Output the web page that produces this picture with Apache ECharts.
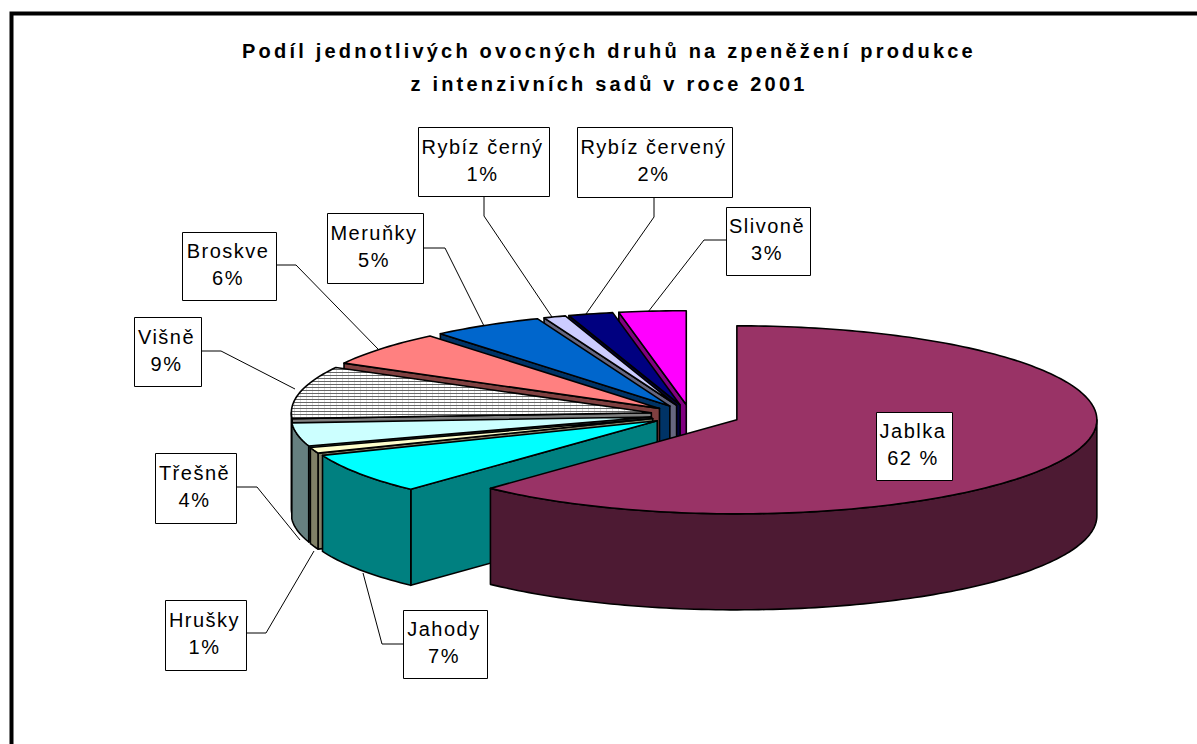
<!DOCTYPE html>
<html><head><meta charset="utf-8">
<script src="https://cdn.jsdelivr.net/npm/echarts@6/dist/echarts.min.js"></script>
<style>
html,body{margin:0;padding:0;background:#fff}
#c{width:1197px;height:744px}
#c svg text{letter-spacing:1.5px}
#c svg text[style*="bold"]{letter-spacing:3.2px}
</style></head><body><div id="c"></div>
<script>
// data, clockwise from twelve o'clock
const categories = ['Jablka','Jahody','Hrušky','Třešně','Višně','Broskve','Meruňky','Rybíz černý','Rybíz červený','Slivoně'];
const shares = [62,7,1,4,9,6,5,1,2,3];
const shareLabels = ['62 %','7%','1%','4%','9%','6%','5%','1%','2%','3%'];
const titleLines = ['Podíl jednotlivých ovocných druhů na zpeněžení produkce','z intenzivních sadů v roce 2001'];

// style and layout
const topColors  = ['#993366','#00ffff','#ffffcc','#ccffff','hatch','#ff8080','#0066cc','#ccccff','#000080','#ff00ff'];
const sideColors = ['#4d1a33','#008080','#808066','#668080','#808080','#804040','#003366','#666680','#000040','#800080'];
const pie = {cx:690, cy:415, rx:360, ry:94, depth:96};
const explosion = [0.14,0.11,0.11,0.11,0.11,0.11,0.11,0.11,0.11,0.11];
// label boxes [x0,y0,x1,y1] and leader polyline
const boxes = [[876,412,952,480],[403,610,487,678],[165,600,246,670],[155,453,236,523],[134,317,201,386],[182,232,276,300],[327,213,423,283],[418,127,549,196],[577,127,732,197],[726,207,810,275]];
const leaders = [null,
 [[403,644],[382,644],[363,573]],
 [[246,633],[266,633],[314,551]],
 [[236,487],[257,487],[300,540]],
 [[201,351],[221,351],[295,389]],
 [[276,265],[296,265],[378,349]],
 [[423,248],[445,248],[484,326]],
 [[484,196],[484,216],[552,317]],
 [[654,197],[654,217],[586,314]],
 [[726,240],[704,240],[648,312]]];

// hatch for Višně
const hc = document.createElement('canvas'); hc.width = 6; hc.height = 3;
const hx = hc.getContext('2d');
hx.fillStyle = '#fff'; hx.fillRect(0,0,6,3);
hx.fillStyle = '#ddd'; hx.fillRect(0,0,1,3);
hx.fillStyle = '#666'; hx.fillRect(0,0,6,1);
const hatch = {image: hc, repeat: 'repeat'};

const total = shares.reduce((a,b)=>a+b,0);
const starts = []; { let acc = 0; shares.forEach(v => { starts.push(acc); acc += v; }); }

function renderSlice(params, api) {
  const i = api.value(0);
  const a0 = starts[i] / total * 2 * Math.PI;
  const a1 = (starts[i] + shares[i]) / total * 2 * Math.PI;
  const mid = (a0 + a1) / 2;
  const ox = pie.cx + explosion[i] * pie.rx * Math.sin(mid);
  const oy = pie.cy - explosion[i] * pie.ry * Math.cos(mid);
  const at = a => [ox + pie.rx * Math.sin(a), oy - pie.ry * Math.cos(a)];
  const down = p => [p[0], p[1] + pie.depth];
  const arc = (from, to) => {
    const n = Math.max(2, Math.ceil((to - from) / 0.02));
    const pts = [];
    for (let k = 0; k <= n; k++) pts.push(at(from + (to - from) * k / n));
    return pts;
  };
  const side = {fill: sideColors[i], stroke: '#000', lineWidth: 1.6, lineJoin: 'round'};
  const top = {fill: topColors[i] === 'hatch' ? hatch : topColors[i], stroke: '#000', lineWidth: 1.6, lineJoin: 'round'};
  const apex = [ox, oy];
  const children = [];
  const wall = a => {
    const r = at(a);
    children.push({type:'polygon', shape:{points:[apex, r, down(r), down(apex)]}, style: side});
  };
  if (Math.sin(a0) < -1e-6) wall(a0);
  if (Math.sin(a1) > 1e-6) wall(a1);
  const f0 = Math.max(a0, Math.PI / 2), f1 = Math.min(a1, 1.5 * Math.PI);
  if (f1 > f0) {
    const rim = arc(f0, f1);
    children.push({type:'polygon', shape:{points: rim.concat(rim.slice().reverse().map(down))}, style: side});
  }
  children.push({type:'polygon', shape:{points:[apex].concat(arc(a0, a1))}, style: top});
  return {type:'group', children};
}

function renderLabel(params, api) {
  const i = api.value(0);
  const b = boxes[i];
  const children = [];
  if (leaders[i]) children.push({type:'polyline', shape:{points: leaders[i]}, style:{fill:'none', stroke:'#000', lineWidth:1}});
  children.push({type:'rect', shape:{x:b[0]+.5, y:b[1]+.5, width:b[2]-b[0], height:b[3]-b[1]}, style:{fill:'#fff', stroke:'#000', lineWidth:1}});
  const mx = (b[0]+b[2])/2 - 1, my = (b[1]+b[3])/2;
  children.push({type:'text', style:{x:mx, y:my-15, text:categories[i], align:'center', verticalAlign:'middle', fontFamily:'"Liberation Sans"', fontSize:20, fill:'#000'}});
  children.push({type:'text', style:{x:mx, y:my+12, text:shareLabels[i], align:'center', verticalAlign:'middle', fontFamily:'"Liberation Sans"', fontSize:20, fill:'#000'}});
  return {type:'group', children};
}

const order = shares.map((_, i) => shares.length - 1 - i); // back to front, Jablka last
const chart = echarts.init(document.getElementById('c'), null, {renderer:'svg', width:1197, height:744});
chart.setOption({
  animation:false,
  backgroundColor:'#fff',
  graphic:[{type:'rect', silent:true, z:-1, shape:{x:11.5,y:13.5,width:1300,height:900}, style:{fill:'none',stroke:'#000',lineWidth:4}}],
  title:{text:titleLines.join('\n'), left:604, top:29, textAlign:'center',
    textStyle:{fontFamily:'"Liberation Sans"', fontWeight:'bold', fontSize:20, lineHeight:33, color:'#000'}},
  series:[
    {type:'custom', coordinateSystem:'none', silent:true, data:order.map(i=>[i]), renderItem:renderSlice, z:2},
    {type:'custom', coordinateSystem:'none', silent:true, data:order.map(i=>[i]), renderItem:renderLabel, z:3}
  ]
});
</script></body></html>
